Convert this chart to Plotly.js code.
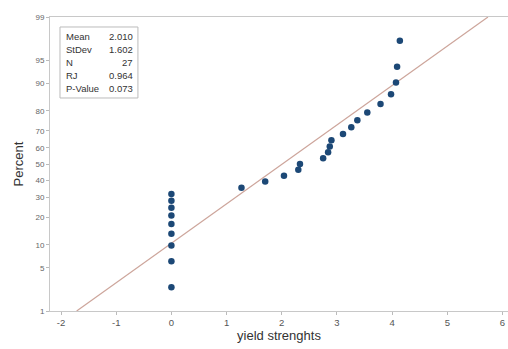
<!DOCTYPE html>
<html>
<head>
<meta charset="utf-8">
<script src="https://cdn.plot.ly/plotly-3.0.1.min.js"></script>
<style>html,body{margin:0;padding:0;background:#fff;}#chart{width:508px;height:349px;}</style>
</head>
<body>
<div id="chart"></div>
<script>
// Data
var yieldValues = [0,0,0,0,0,0,0,0,0,1.27,1.70,2.04,2.30,2.33,2.75,2.84,2.87,2.90,3.11,3.26,3.37,3.55,3.79,3.98,4.07,4.09,4.14];
var percentValues = [2.555,6.204,9.854,13.504,17.153,20.803,24.453,28.102,31.752,35.401,39.051,42.701,46.350,50.000,53.650,57.299,60.949,64.599,68.248,71.898,75.547,79.197,82.847,86.496,90.146,93.796,97.445];
var yTickPercents = [1,5,10,20,30,40,50,60,70,80,90,95,99];
var xTickVals = [-2,-1,0,1,2,3,4,5,6];
var statLabels = ['Mean','StDev','N','RJ','P-Value'];
var statValues = ['2.010','1.602','27','0.964','0.073'];
var fitMean = 2.010, fitStDev = 1.602;

// inverse normal CDF (Acklam) for probability axis
function normInv(p){
  var a=[-3.969683028665376e+01,2.209460984245205e+02,-2.759285104469687e+02,1.383577518672690e+02,-3.066479806614716e+01,2.506628277459239e+00];
  var b=[-5.447609879822406e+01,1.615858368580409e+02,-1.556989798598866e+02,6.680131188771972e+01,-1.328068155288572e+01];
  var c=[-7.784894002430293e-03,-3.223964580411365e-01,-2.400758277161838e+00,-2.549732539343734e+00,4.374664141464968e+00,2.938163982698783e+00];
  var d=[7.784695709041462e-03,3.224671290700398e-01,2.445134137142996e+00,3.754408661907416e+00];
  var pl=0.02425, q, r;
  if(p<pl){q=Math.sqrt(-2*Math.log(p));return (((((c[0]*q+c[1])*q+c[2])*q+c[3])*q+c[4])*q+c[5])/((((d[0]*q+d[1])*q+d[2])*q+d[3])*q+1);}
  if(p>1-pl){q=Math.sqrt(-2*Math.log(1-p));return -(((((c[0]*q+c[1])*q+c[2])*q+c[3])*q+c[4])*q+c[5])/((((d[0]*q+d[1])*q+d[2])*q+d[3])*q+1);}
  q=p-0.5;r=q*q;
  return (((((a[0]*r+a[1])*r+a[2])*r+a[3])*r+a[4])*r+a[5])*q/(((((b[0]*r+b[1])*r+b[2])*r+b[3])*r+b[4])*r+1);
}
function pz(pct){return normInv(pct/100);}

var zLo = pz(1), zHi = pz(99);
var fitLine = {
  x:[fitMean+fitStDev*zLo, fitMean+fitStDev*zHi],
  y:[zLo, zHi],
  mode:'lines', type:'scatter',
  line:{color:'rgb(205,165,155)', width:1.2},
  hoverinfo:'skip', showlegend:false
};
var pts = {
  x: yieldValues,
  y: percentValues.map(pz),
  mode:'markers', type:'scatter',
  marker:{color:'rgb(28,72,118)', size:6.5},
  showlegend:false
};

var annotations = [];
var statTop = 0.935, statStep = 0.0442;
for (var i=0;i<statLabels.length;i++){
  annotations.push({xref:'paper',yref:'paper',x:0.030,y:statTop-i*statStep,text:statLabels[i],showarrow:false,xanchor:'left',yanchor:'middle',font:{family:'Liberation Sans, Arial, sans-serif',size:9.5,color:'#333'}});
  annotations.push({xref:'paper',yref:'paper',x:0.186,y:statTop-i*statStep,text:statValues[i],showarrow:false,xanchor:'right',yanchor:'middle',font:{family:'Liberation Sans, Arial, sans-serif',size:9.5,color:'#333'}});
}

var layout = {
  width:508, height:349,
  margin:{l:50, r:0, t:17, b:38},
  paper_bgcolor:'#fff', plot_bgcolor:'#fff',
  font:{family:'Liberation Sans, Arial, sans-serif', color:'#555'},
  xaxis:{
    range:[-2.2, 6.1], tickvals:xTickVals, ticktext:xTickVals.map(String),
    showgrid:false, zeroline:false, showline:true, linecolor:'#c8c8c8', linewidth:1, mirror:true,
    ticks:'outside', ticklen:3, tickcolor:'#bbb', tickfont:{size:9.5, color:'#555'},
    title:{text:'yield strenghts', font:{size:13, color:'#333'}, standoff:3}
  },
  yaxis:{
    range:[zLo, zHi], tickvals:yTickPercents.map(pz), ticktext:yTickPercents.map(String),
    showgrid:false, zeroline:false, showline:true, linecolor:'#c8c8c8', linewidth:1, mirror:true,
    ticks:'outside', ticklen:3, tickcolor:'#bbb', tickfont:{size:8, color:'#666'},
    title:{text:'Percent', font:{size:13, color:'#333'}, standoff:8}
  },
  shapes:[{type:'rect', xref:'paper', yref:'paper', x0:0.0218, x1:0.192, y0:0.7245, y1:0.966, line:{color:'#bbb', width:1}}],
  annotations:annotations
};
Plotly.newPlot('chart',[fitLine, pts],layout,{displayModeBar:false, staticPlot:true});
</script>
</body>
</html>
